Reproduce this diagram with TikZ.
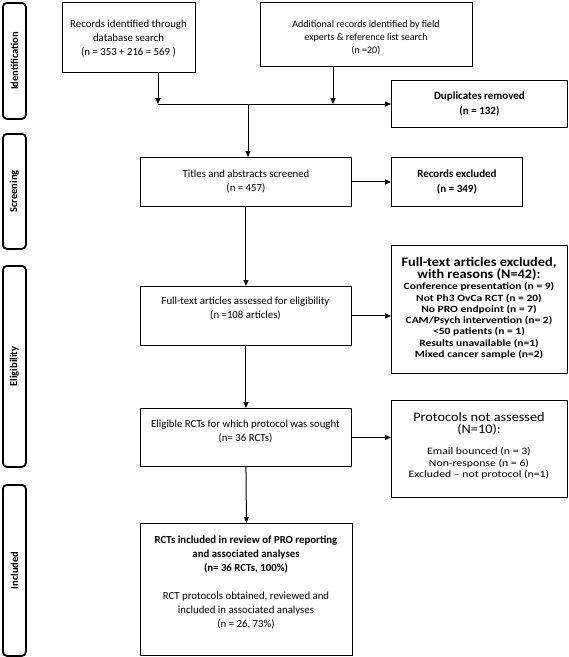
\documentclass[tikz,border=0pt]{standalone}
\usepackage{fontspec}
\setmainfont{Carlito}
\newfontfamily\widefont[FakeStretch=1.2,Ligatures=TeX]{Carlito}
\newfontfamily\midfont[FakeStretch=1.1,Ligatures=TeX]{Carlito}
\usetikzlibrary{arrows.meta,calc}
\begin{document}
\begin{tikzpicture}[x=1pt,y=-1pt,
  box/.style={draw=black,line width=0.9pt,inner sep=0pt,anchor=north west},
  side/.style={draw=black,line width=1.8pt,rounded corners=4pt,inner sep=0pt,anchor=north west,minimum width=23pt},
  sidetxt/.style={rotate=90,font=\bfseries\fontsize{10.5}{12}\selectfont},
  txt/.style={align=center,inner sep=0pt,font=\fontsize{10.8}{14}\selectfont},
  arr/.style={line width=1pt,-{Triangle[length=6pt,width=5pt]}},
  ln/.style={line width=1pt}
]
\useasboundingbox (0,0) rectangle (569,657);
% side labels
\node[side,minimum height=116pt] (sI) at (2,2) {};
\node[sidetxt] at (sI.center) {Identification};
\node[side,minimum height=115pt] (sS) at (2,133) {};
\node[sidetxt] at (sS.center) {Screening};
\node[side,minimum height=201pt] (sE) at (2,265) {};
\node[sidetxt] at (sE.center) {Eligibility};
\node[side,minimum height=171pt] (sN) at (2,484) {};
\node[sidetxt] at (sN.center) {Included};
% boxes
\node[box,minimum width=133pt,minimum height=70pt] (rec) at (62,2) {};
\node[txt] at (128.5,38.5) {Records identified through\\database search\\(n = 353 + 216 = 569 )};
\node[box,minimum width=212pt,minimum height=64pt] (add) at (260,2) {};
\node[txt,font=\fontsize{10}{13}\selectfont] at (366,37.5) {Additional records identified by field\\experts \& reference list search\\(n =20)};
\node[box,minimum width=176pt,minimum height=47pt] (dup) at (391,80) {};
\node[txt,font=\bfseries\fontsize{11}{15}\selectfont] at (dup.center) {Duplicates removed\\(n = 132)};
\node[box,minimum width=211pt,minimum height=49pt] (tit) at (140,157) {};
\node[txt] at (tit.center) {Titles and abstracts screened\\(n = 457)};
\node[box,minimum width=131pt,minimum height=49pt] (recx) at (391,157) {};
\node[txt,font=\bfseries\fontsize{11}{15}\selectfont] at (recx.center) {Records excluded\\(n = 349)};
\node[box,minimum width=211pt,minimum height=59pt] (ft) at (140,286) {};
\node[txt] at (245.5,308) {Full-text articles assessed for eligibility\\(n =108 articles)};
\node[box,minimum width=176pt,minimum height=128pt] (ftx) at (391,245) {};
\node[txt,font=\widefont\bfseries\fontsize{9.6}{11.3}\selectfont] at (479,308) {{\midfont\bfseries\fontsize{13}{16}\selectfont Full-text articles excluded,}\\[0pt]{\midfont\bfseries\fontsize{13}{16}\selectfont with reasons (N=42):}\\Conference presentation (n = 9)\\Not Ph3 OvCa RCT (n = 20)\\No PRO endpoint (n = 7)\\CAM/Psych intervention (n= 2)\\<50 patients (n = 1)\\Results unavailable (n=1)\\Mixed cancer sample (n=2)};
\node[box,minimum width=211pt,minimum height=58pt] (elig) at (140,408) {};
\node[txt] at (245.5,431) {Eligible RCTs for which protocol was sought\\(n= 36 RCTs)};
\node[box,minimum width=176pt,minimum height=97pt] (prot) at (391,400) {};
\node[txt,font=\widefont\fontsize{9.8}{11.5}\selectfont] at (479,446) {{\midfont\fontsize{13}{14.5}\selectfont Protocols not assessed}\\{\midfont\fontsize{13}{14.5}\selectfont (N=10):}\\[10pt]Email bounced (n = 3)\\Non-response (n = 6)\\Excluded – not protocol (n=1)};
\node[box,minimum width=212pt,minimum height=132pt] (incl) at (140,523) {};
\node[txt] at (246,582) {\textbf{RCTs included in review of PRO reporting}\\\textbf{and associated analyses}\\\textbf{(n= 36 RCTs, 100\%)}\\[14pt]RCT protocols obtained, reviewed and\\included in associated analyses\\(n = 26, 73\%)};
% connectors
\coordinate (j1) at (158,104);
\coordinate (j2) at (333,104);
\coordinate (j3) at (248,104);
\draw[arr] (rec.south -| j1) -- (j1);
\draw[arr] (add.south -| j2) -- (j2);
\draw[arr] (j1) -- (j1 -| dup.west);
\draw[arr] (j3) -- (j3 |- tit.north);
\draw[arr] (tit.east) -- (recx.west);
\draw[arr] (tit.south) -- (ft.north);
\draw[arr] (ft.east) -- (ft.east -| ftx.west);
\draw[arr] (ft.south) -- (elig.north);
\draw[arr] (elig.east) -- (elig.east -| prot.west);
\draw[arr] (elig.south) -- (incl.north);
\end{tikzpicture}
\end{document}
